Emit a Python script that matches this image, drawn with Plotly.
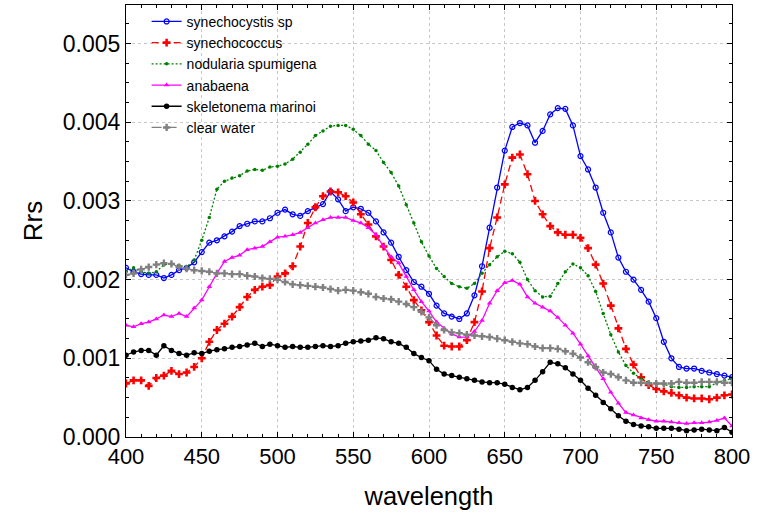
import plotly.graph_objects as go

# Wavelength grid (nm)
wavelength = list(range(400, 801, 5))

# Rrs values, in units of 1e-3 sr^-1
SCALE = 1e-3
synechocystis = [
    2.15, 2.10, 2.07, 2.06, 2.06, 2.02, 2.06, 2.12, 2.15, 2.22, 2.35,
    2.47, 2.50, 2.55, 2.61, 2.68, 2.71, 2.74, 2.74, 2.78, 2.85,
    2.89, 2.83, 2.81, 2.87, 2.92, 2.96, 3.12, 3.02, 2.87, 2.92,
    2.90, 2.85, 2.74, 2.60, 2.47, 2.29, 2.12, 1.97, 1.91, 1.82,
    1.67, 1.57, 1.53, 1.50, 1.57, 1.80, 2.17, 2.66, 3.17, 3.64,
    3.94, 3.99, 3.96, 3.74, 3.89, 4.10, 4.18, 4.17, 3.96, 3.57,
    3.40, 3.17, 2.85, 2.60, 2.28, 2.10, 2.00, 1.87, 1.72, 1.51,
    1.21, 1.00, 0.89, 0.87, 0.87, 0.84, 0.82, 0.80, 0.78, 0.76,
]
synechococcus = [
    0.68, 0.72, 0.72, 0.65, 0.75, 0.78, 0.84, 0.80, 0.82, 0.89, 1.00,
    1.21, 1.36, 1.44, 1.53, 1.65, 1.78, 1.87, 1.91, 1.93, 2.04,
    2.08, 2.17, 2.42, 2.72, 2.92, 3.06, 3.12, 3.11, 3.06, 2.98,
    2.83, 2.70, 2.55, 2.42, 2.25, 2.06, 1.91, 1.74, 1.61, 1.46,
    1.29, 1.16, 1.15, 1.15, 1.23, 1.46, 1.85, 2.40, 2.79, 3.21,
    3.55, 3.59, 3.34, 3.00, 2.83, 2.68, 2.60, 2.57, 2.57, 2.53,
    2.40, 2.19, 1.95, 1.67, 1.38, 1.12, 0.92, 0.76, 0.66, 0.61,
    0.58, 0.56, 0.53, 0.50, 0.49, 0.49, 0.48, 0.50, 0.53, 0.54,
]
nodularia = [
    2.10, 2.15, 2.10, 2.08, 2.10, 2.19, 2.20, 2.18, 2.16, 2.25, 2.50,
    2.79, 3.15, 3.25, 3.29, 3.32, 3.38, 3.40, 3.39, 3.43, 3.44,
    3.47, 3.53, 3.62, 3.72, 3.83, 3.89, 3.95, 3.96, 3.96, 3.91,
    3.83, 3.72, 3.64, 3.49, 3.36, 3.19, 2.95, 2.72, 2.48, 2.30,
    2.14, 2.04, 1.95, 1.91, 1.89, 1.95, 2.08, 2.19, 2.29, 2.36,
    2.33, 2.22, 2.00, 1.86, 1.78, 1.79, 1.95, 2.10, 2.20, 2.15,
    2.05, 1.85, 1.57, 1.30, 1.08, 0.91, 0.81, 0.74, 0.69, 0.68,
    0.67, 0.64, 0.63, 0.63, 0.64, 0.64, 0.64, 0.69, 0.72, 0.74,
]
anabaena = [
    1.42, 1.40, 1.44, 1.46, 1.50, 1.55, 1.53, 1.57, 1.53, 1.64, 1.74,
    1.91, 2.08, 2.23, 2.28, 2.31, 2.38, 2.40, 2.42, 2.48, 2.54,
    2.55, 2.57, 2.60, 2.66, 2.72, 2.76, 2.79, 2.79, 2.79, 2.75,
    2.72, 2.66, 2.57, 2.42, 2.29, 2.21, 2.04, 1.87, 1.72, 1.60,
    1.46, 1.38, 1.31, 1.27, 1.27, 1.34, 1.48, 1.70, 1.86, 1.96,
    1.99, 1.94, 1.78, 1.70, 1.65, 1.60, 1.52, 1.42, 1.32, 1.18,
    1.03, 0.88, 0.74, 0.57, 0.43, 0.31, 0.28, 0.24, 0.22, 0.20,
    0.20, 0.19, 0.18, 0.17, 0.18, 0.18, 0.19, 0.21, 0.24, 0.14,
]
skeletonema = [
    1.04, 1.08, 1.10, 1.10, 1.04, 1.16, 1.10, 1.06, 1.04, 1.07, 1.06,
    1.09, 1.11, 1.12, 1.14, 1.15, 1.17, 1.19, 1.15, 1.18, 1.16,
    1.14, 1.15, 1.14, 1.14, 1.15, 1.16, 1.15, 1.16, 1.19, 1.21,
    1.22, 1.23, 1.26, 1.25, 1.21, 1.19, 1.14, 1.06, 1.01, 0.97,
    0.86, 0.80, 0.78, 0.76, 0.74, 0.72, 0.70, 0.69, 0.69, 0.67,
    0.63, 0.60, 0.63, 0.72, 0.83, 0.95, 0.93, 0.88, 0.80, 0.72,
    0.62, 0.53, 0.44, 0.36, 0.27, 0.20, 0.16, 0.14, 0.13, 0.11,
    0.11, 0.11, 0.10, 0.08, 0.09, 0.10, 0.09, 0.08, 0.12, 0.06,
]
clear_water = [
    2.06, 2.08, 2.13, 2.16, 2.19, 2.21, 2.20, 2.16, 2.14, 2.12, 2.11,
    2.10, 2.08, 2.08, 2.07, 2.07, 2.05, 2.04, 2.02, 2.01, 2.00,
    1.97, 1.94, 1.93, 1.92, 1.91, 1.90, 1.88, 1.86, 1.87, 1.86,
    1.84, 1.82, 1.78, 1.76, 1.75, 1.72, 1.69, 1.65, 1.59, 1.52,
    1.42, 1.36, 1.33, 1.32, 1.30, 1.29, 1.28, 1.27, 1.25, 1.23,
    1.21, 1.19, 1.18, 1.15, 1.13, 1.13, 1.12, 1.09, 1.06, 1.01,
    0.95, 0.89, 0.82, 0.80, 0.76, 0.72, 0.69, 0.69, 0.68, 0.68,
    0.68, 0.68, 0.70, 0.69, 0.69, 0.70, 0.70, 0.70, 0.69, 0.69,
]

series_names = ["synechocystis sp", "synechococcus", "nodularia spumigena",
                "anabaena", "skeletonema marinoi", "clear water"]
series_values = [synechocystis, synechococcus, nodularia, anabaena, skeletonema, clear_water]

styles = [
    dict(line=dict(color="#0000ff", width=1.3, dash="solid"),
         marker=dict(symbol="circle-open", size=5, color="#0000ff", line=dict(width=1.2))),
    dict(line=dict(color="#ff0000", width=1.3, dash="7px,4px"),
         marker=dict(symbol="cross", size=6.5, color="#ff0000", line=dict(width=0))),
    dict(line=dict(color="#008000", width=1.3, dash="2px,2px"),
         marker=dict(symbol="circle", size=3.5, color="#008000")),
    dict(line=dict(color="#ff00ff", width=1.3, dash="solid"),
         marker=dict(symbol="triangle-up", size=5, color="#ff00ff")),
    dict(line=dict(color="#000000", width=1.3, dash="solid"),
         marker=dict(symbol="circle", size=5.5, color="#000000")),
    dict(line=dict(color="#808080", width=1.3, dash="10px,5px"),
         marker=dict(symbol="cross", size=6, color="#808080", line=dict(width=0))),
]

fig = go.Figure()
for name, vals, st in zip(series_names, series_values, styles):
    fig.add_trace(go.Scatter(
        x=wavelength, y=[v * SCALE for v in vals], name=name,
        mode="lines+markers", line=st["line"], marker=st["marker"],
    ))

FONT = "Liberation Sans, Arial, sans-serif"
fig.update_layout(
    width=765, height=516,
    margin=dict(l=126, r=33, t=5, b=79),
    paper_bgcolor="white", plot_bgcolor="white",
    font=dict(family=FONT, color="black"),
    showlegend=True,
    legend=dict(x=0.034, y=0.998, xanchor="left", yanchor="top",
                bgcolor="rgba(0,0,0,0)", font=dict(size=14, family=FONT),
                tracegroupgap=0, itemwidth=30),
    xaxis=dict(
        range=[400, 800], dtick=50, tick0=400,
        showline=True, linecolor="black", linewidth=1, mirror="ticks",
        ticks="inside", ticklen=5, tickcolor="black",
        showgrid=True, gridcolor="#c8c8c8", griddash="dot", gridwidth=1,
        zeroline=False,
        tickfont=dict(size=22, family=FONT),
        title=dict(text="wavelength", font=dict(size=25.5, family=FONT), standoff=18),
        minor=dict(dtick=10, ticks="inside", ticklen=3, tickcolor="black", showgrid=False),
    ),
    yaxis=dict(
        range=[0, 0.00549], dtick=0.001, tick0=0, tickformat=".3f",
        showline=True, linecolor="black", linewidth=1, mirror="ticks",
        ticks="inside", ticklen=5, tickcolor="black",
        showgrid=True, gridcolor="#c8c8c8", griddash="dot", gridwidth=1,
        zeroline=False,
        tickfont=dict(size=23, family=FONT),
        title=dict(text="Rrs", font=dict(size=26, family=FONT), standoff=12),
        minor=dict(dtick=0.00025, ticks="inside", ticklen=3, tickcolor="black", showgrid=False),
    ),
)

# Remove the browser's default body margin so the figure sits at the page origin
fig.write_html("out.html", config={"displayModeBar": False},
               post_script="document.body.style.margin='0';")
